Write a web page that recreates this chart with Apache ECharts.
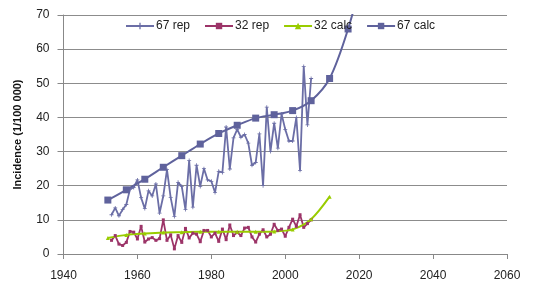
<!DOCTYPE html>
<html>
<head>
<meta charset="utf-8">
<script src="https://cdn.jsdelivr.net/npm/echarts@6/dist/echarts.min.js"></script>
<style>
  html, body { margin: 0; padding: 0; background: #fff; }
  #main { width: 548px; height: 303px; }
</style>
</head>
<body>
<div id="main"></div>
<script>
// yearly reported values, 1953-2007
const repYears = [];
for (let y = 1953; y <= 2007; y++) repYears.push(y);

const rep67 = [11.5, 13.5, 11.2, 13, 14.5, 19, 19.5, 21.7, 16.5, 13.3,
  18.5, 17, 20.5, 12, 17, 24.7, 16.5, 11, 21, 19.8,
  13, 27.4, 13.7, 26, 19.8, 25, 21.7, 21.3, 18, 24.2,
  23.9, 37.2, 24.9, 34, 36.5, 34.2, 35, 32.5, 26, 26.8,
  35.2, 20, 43, 30, 38.3, 31, 41, 36.5, 33.1, 33.1,
  40, 24.5, 54.9, 37.8, 51.4];

const rep32 = [4.0, 5.4, 2.9, 2.5, 3.4, 6.6, 6.4, 4.4, 8.1, 3.5,
  4.4, 4.8, 4.0, 4.5, 10.0, 4.0, 5.6, 1.5, 5.4, 3.4,
  7.5, 4.7, 6.1, 5.8, 3.6, 6.9, 6.9, 5.0, 6.1, 3.7,
  7.3, 4.2, 8.5, 5.4, 6.3, 5.4, 7.6, 7.8, 5.0, 3.5,
  5.8, 7.1, 5.0, 5.8, 8.7, 6.9, 7.3, 5.2, 7.8, 10.2,
  8.1, 11.5, 7.8, 8.9, 10.0];

// calculated values every 5 years
const calcYears32 = [1952, 1957, 1962, 1967, 1972, 1977, 1982, 1987, 1992, 1997, 2002, 2007, 2012];
const calc32 = [4.7, 5.6, 6.0, 6.3, 6.4, 6.5, 6.5, 6.5, 6.5, 6.6, 7.2, 10.2, 16.8];

const calcYears67 = [1952, 1957, 1962, 1967, 1972, 1977, 1982, 1987, 1992, 1997, 2002, 2007, 2012, 2017, 2022];
const calc67 = [15.8, 18.8, 21.9, 25.4, 28.8, 32.2, 35.3, 37.7, 39.8, 40.8, 42.0, 44.9, 51.4, 65.9, 86];

const pair = (xs, ys) => xs.map((x, i) => [x, ys[i]]);

const plus = 'path://M4,0h2v4h4v2h-4v4h-2v-4h-4v-2h4z';

let myChart = echarts.init(document.getElementById('main'));
myChart.setOption({
  animation: false,
  textStyle: { fontFamily: 'Liberation Sans' },
  legend: {
    left: 120,
    top: 15,
    itemWidth: 28,
    itemHeight: 8,
    itemGap: 14,
    textStyle: { fontSize: 12, color: '#222', padding: [0, 0, 0, -3] },
    data: ['67 rep', '32 rep', '32 calc', '67 calc']
  },
  grid: { left: 63.5, right: 41, top: 15, bottom: 49 },
  xAxis: {
    type: 'value',
    min: 1940,
    max: 2060,
    interval: 20,
    axisLine: { lineStyle: { color: '#888' } },
    axisTick: { show: true, length: 5, lineStyle: { color: '#888' } },
    axisLabel: { color: '#222', fontSize: 12, margin: 16, formatter: v => String(v) },
    splitLine: { show: false }
  },
  yAxis: {
    type: 'value',
    min: 0,
    max: 70,
    interval: 10,
    name: 'Incidence (1/100 000)',
    nameLocation: 'middle',
    nameGap: 40,
    nameTextStyle: { fontWeight: 'bold', fontSize: 11, color: '#111' },
    axisLine: { show: true, lineStyle: { color: '#888' } },
    axisTick: { show: true, length: 6, lineStyle: { color: '#888' } },
    axisLabel: { color: '#222', fontSize: 12, margin: 14 },
    splitLine: { lineStyle: { color: '#8c8c8c', width: 1 } }
  },
  series: [
    {
      name: '67 rep',
      type: 'line',
      data: pair(repYears, rep67),
      symbol: plus,
      symbolSize: 4,
      color: '#6B6EA6',
      lineStyle: { width: 1.8 }
    },
    {
      name: '32 rep',
      type: 'line',
      data: pair(repYears, rep32),
      symbol: 'rect',
      symbolSize: 3,
      color: '#9C3468',
      lineStyle: { width: 1.8 }
    },
    {
      name: '32 calc',
      type: 'line',
      data: pair(calcYears32, calc32),
      symbol: 'triangle',
      symbolSize: 4,
      smooth: 0.3,
      color: '#99CC00',
      lineStyle: { width: 2 }
    },
    {
      name: '67 calc',
      type: 'line',
      data: pair(calcYears67, calc67),
      symbol: 'rect',
      symbolSize: 7,
      smooth: 0.3,
      color: '#5F629C',
      lineStyle: { width: 2 }
    }
  ]
});
</script>
</body>
</html>
